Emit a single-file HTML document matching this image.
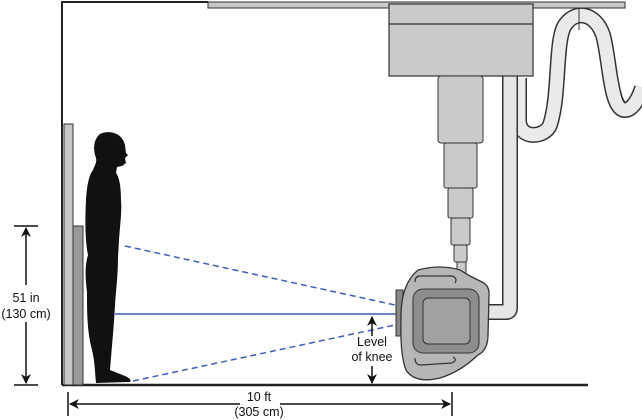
<!DOCTYPE html>
<html><head><style>body{margin:0;background:#fff}svg{display:block}text{font-family:"Liberation Sans",sans-serif;font-size:12.5px;fill:#111}</style></head>
<body>
<svg width="642" height="420" viewBox="0 0 642 420" xmlns="http://www.w3.org/2000/svg">
<defs><marker id="a" markerWidth="10" markerHeight="10" refX="9" refY="5" orient="auto" markerUnits="userSpaceOnUse"><path d="M0,0 L10,5 L0,10 L3,5 Z" fill="#111"/></marker></defs>
<path d="M62,385 V2 H208" fill="none" stroke="#222" stroke-width="2"/>
<rect x="208" y="2" width="417" height="6" fill="#c8c8c8" stroke="#333" stroke-width="1"/>
<line x1="62" y1="385" x2="588" y2="385" stroke="#222" stroke-width="2.5"/>
<rect x="64" y="124" width="9" height="261" fill="#c6c8c8" stroke="#333" stroke-width="1"/>
<rect x="73" y="226" width="10" height="159" fill="#999" stroke="#333" stroke-width="1"/>
<path d="M100,134 C108,130 122,132 125,145 L126,153 L128,155 L125,158 L126,163 L122,166 L117,167 L116,173 C120,178 121,190 121,200 C122,212 120,225 119,240 L118,258 C118,275 116,290 115,305 C114,325 112,345 110,370 L120,374 C128,377 132,379 130,382 L96,383 C95,374 95,362 92,350 C87,332 87,312 87,292 C85,275 85,265 88,255 C85,240 85,220 86,200 C87,185 89,175 93,170 C95,165 97,162 96,158 C93,150 93,140 100,134 Z" fill="#111"/>
<line x1="14" y1="226" x2="38" y2="226" stroke="#111" stroke-width="1.5"/>
<line x1="14" y1="385" x2="38" y2="385" stroke="#111" stroke-width="1.5"/>
<line x1="26" y1="285" x2="26" y2="228" stroke="#111" stroke-width="1.5" marker-end="url(#a)"/>
<line x1="26" y1="322" x2="26" y2="383" stroke="#111" stroke-width="1.5" marker-end="url(#a)"/>
<text x="26" y="302" text-anchor="middle">51 in</text>
<text x="26" y="318" text-anchor="middle">(130 cm)</text>
<line x1="68" y1="392" x2="68" y2="416" stroke="#111" stroke-width="1.5"/>
<line x1="452" y1="392" x2="452" y2="416" stroke="#111" stroke-width="1.5"/>
<line x1="240" y1="404" x2="70" y2="404" stroke="#111" stroke-width="1.5" marker-end="url(#a)"/>
<line x1="280" y1="404" x2="450" y2="404" stroke="#111" stroke-width="1.5" marker-end="url(#a)"/>
<text x="259" y="401" text-anchor="middle">10 ft</text>
<text x="259" y="416" text-anchor="middle">(305 cm)</text>
<line x1="125" y1="246" x2="395" y2="305" stroke="#3a5fc0" stroke-width="1.5" stroke-dasharray="6,4"/>
<line x1="133" y1="381" x2="395" y2="325" stroke="#3a5fc0" stroke-width="1.5" stroke-dasharray="6,4"/>
<line x1="115" y1="314" x2="396" y2="314" stroke="#3a5fc0" stroke-width="1.5"/>
<line x1="372" y1="336" x2="372" y2="317" stroke="#111" stroke-width="1.5" marker-end="url(#a)"/>
<line x1="372" y1="366" x2="372" y2="383" stroke="#111" stroke-width="1.5" marker-end="url(#a)"/>
<text x="372" y="346" text-anchor="middle">Level</text>
<text x="372" y="361" text-anchor="middle">of knee</text>
<path d="M519,78 V120 C519,140 545,138 550,125 C560,95 555,40 565,25 C575,10 595,12 603,35 C610,60 610,110 625,110 C632,110 638,100 642,88" fill="none" stroke="#333" stroke-width="16"/>
<path d="M519,78 V120 C519,140 545,138 550,125 C560,95 555,40 565,25 C575,10 595,12 603,35 C610,60 610,110 625,110 C632,110 638,100 642,88" fill="none" stroke="#eaeaea" stroke-width="13"/>
<line x1="579" y1="8" x2="579" y2="30" stroke="#333" stroke-width="1"/>
<path d="M510,76 V308 Q510,312 506,312 H486" fill="none" stroke="#333" stroke-width="16"/>
<path d="M510,76 V308 Q510,312 506,312 H486" fill="none" stroke="#e6e6e6" stroke-width="13"/>
<rect x="389" y="4" width="144" height="72" fill="#c9caca" stroke="#333" stroke-width="1.2"/>
<line x1="389" y1="24" x2="533" y2="24" stroke="#333" stroke-width="1.2"/>
<rect x="438" y="76" width="45" height="67" rx="3" fill="#c9caca" stroke="#333"/>
<rect x="444" y="143" width="33" height="45" rx="2" fill="#c9caca" stroke="#333"/>
<rect x="448" y="188" width="25" height="30" rx="2" fill="#c9caca" stroke="#333"/>
<rect x="451" y="218" width="19" height="27" rx="2" fill="#c9caca" stroke="#333"/>
<rect x="454" y="245" width="13" height="17" rx="2" fill="#c9caca" stroke="#333"/>
<rect x="457" y="262" width="9" height="14" fill="#c9caca" stroke="#333"/>
<rect x="396" y="290" width="7" height="46" fill="#888" stroke="#333"/>
<path d="M418,270 Q440,264 460,270 L470,276 L482,282 Q490,286 489,296 L488,335 Q488,350 478,355 Q460,372 440,378 Q415,384 406,370 Q400,355 401,320 Q400,285 418,270 Z" fill="#b5b6b6" stroke="#333" stroke-width="1.3"/>
<rect x="413" y="289" width="66" height="64" rx="10" fill="#8c8d8d" stroke="#333"/>
<rect x="423" y="298" width="47" height="46" rx="5" fill="#a0a1a1" stroke="#333"/>
<path d="M415,282 Q415,276 420,276 L452,276 Q458,278 455,283" fill="none" stroke="#333" stroke-width="1.2"/>
<path d="M415,358 Q415,365 421,365 L452,363 Q458,360 453,357" fill="none" stroke="#333" stroke-width="1.2"/>
</svg>
</body></html>
